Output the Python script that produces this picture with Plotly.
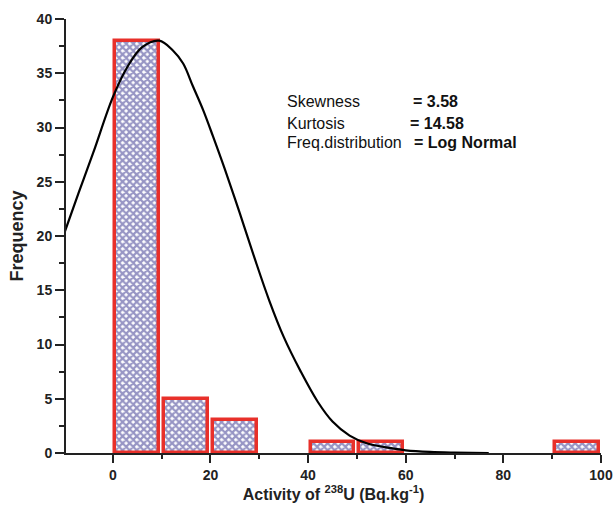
import plotly.graph_objects as go

# Histogram bins (centers) and frequencies
bin_centers = [5, 15, 25, 45, 55, 95]
frequencies = [38, 5, 3, 1, 1, 1]

# Fitted distribution curve
curve_x = [-10, -7, -4, 0, 3, 6, 9.5, 12.3, 14.4, 16.4, 18.5, 20.5, 22.9, 26, 29, 32,
           35, 38.5, 42, 45, 48.5, 52, 57, 60, 65, 70, 77]
curve_y = [20.2, 24.0, 27.7, 32.8, 35.6, 37.4, 38.0, 37.1, 35.9, 33.8, 31.6, 29.2,
           26.2, 22.1, 18.0, 14.1, 10.7, 7.5, 4.7, 2.9, 1.6, 0.9, 0.45, 0.25, 0.1, 0.04, 0.0]

x_ticks = [0, 20, 40, 60, 80, 100]
y_ticks = [0, 5, 10, 15, 20, 25, 30, 35, 40]

FONT = "Liberation Sans, Arial, sans-serif"

fig = go.Figure()
fig.add_trace(go.Bar(
    x=bin_centers, y=frequencies, width=9.0,
    marker=dict(color="white",
                line=dict(color="#e8302a", width=3.5),
                pattern=dict(shape="x", fgcolor="#2f2c8a", bgcolor="white",
                             size=5, solidity=0.7)),
    showlegend=False, hoverinfo="skip"))
fig.add_trace(go.Scatter(
    x=curve_x, y=curve_y, mode="lines",
    line=dict(color="black", width=2.2, shape="spline", smoothing=1.0),
    showlegend=False, hoverinfo="skip"))

tickfont = dict(family=FONT, size=14, color="#222", weight="bold")
fig.update_layout(
    width=613, height=506,
    margin=dict(l=66, r=12, t=19, b=53),
    plot_bgcolor="white", paper_bgcolor="white",
    bargap=0,
    xaxis=dict(range=[-9.6, 100], tickvals=x_ticks, showline=True, linecolor="#222",
               linewidth=2, ticks="outside", tickcolor="#222", ticklen=8, tickwidth=2,
               showgrid=False, zeroline=False, tickfont=tickfont, automargin=False,
               minor=dict(tickvals=[10, 30, 50, 70, 90], ticks="outside", ticklen=4,
                          tickcolor="#222", tickwidth=2),
               title=dict(text="Activity of <sup>238</sup>U (Bq.kg<sup>-1</sup>)",
                          font=dict(family=FONT, size=16, color="#222", weight="bold"),
                          standoff=4)),
    yaxis=dict(range=[0, 40], tickvals=y_ticks, showline=True, linecolor="#222",
               linewidth=2, ticks="outside", tickcolor="#222", ticklen=9, tickwidth=2,
               showgrid=False, zeroline=False, tickfont=tickfont, automargin=False,
               minor=dict(tickvals=[2.5, 7.5, 12.5, 17.5, 22.5, 27.5, 32.5, 37.5],
                          ticks="outside", ticklen=5, tickcolor="#222", tickwidth=2),
               title=dict(text="Frequency",
                          font=dict(family=FONT, size=18, color="#222", weight="bold"),
                          standoff=8)),
)

labels = ["Skewness", "Kurtosis", "Freq.distribution"]
values = ["= 3.58", "= 14.58", "= Log Normal"]
label_y = [32.4, 30.4, 28.6]
value_x = [61.1, 60.4, 61.3]
for lab, val, yy, vx in zip(labels, values, label_y, value_x):
    fig.add_annotation(x=35.2, y=yy, xref="x", yref="y", text=lab, showarrow=False,
                       xanchor="left", yanchor="middle",
                       font=dict(family=FONT, size=16, color="#111"))
    fig.add_annotation(x=vx, y=yy, xref="x", yref="y", text="<b>" + val + "</b>",
                       showarrow=False, xanchor="left", yanchor="middle",
                       font=dict(family=FONT, size=16, color="#111"))

fig.write_html("out.html", config={"displayModeBar": False},
               post_script="document.body.style.margin='0';document.body.style.overflow='hidden';")
